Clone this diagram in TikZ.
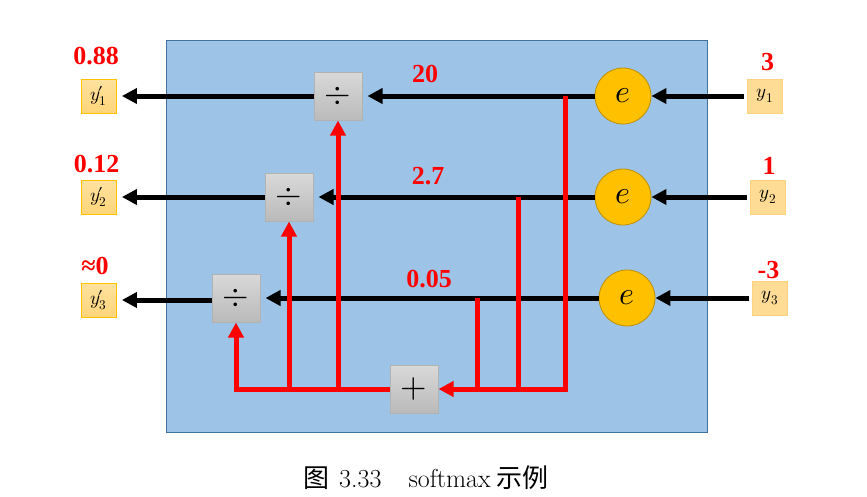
\documentclass[tikz,border=0pt]{standalone}
\usepackage{fontspec}
\usepackage{unicode-math}
\setmathfont{Latin Modern Math}
\newfontfamily\tnr{Liberation Serif}
\newfontfamily\cjk{Noto Sans CJK SC}
\usetikzlibrary{arrows.meta}
\definecolor{bluebg}{HTML}{9DC3E6}
\definecolor{blueedge}{HTML}{41719C}
\definecolor{expfill}{HTML}{FFC000}
\definecolor{expedge}{HTML}{BF9000}
\definecolor{infill}{HTML}{FFDC95}
\definecolor{inedge}{HTML}{FFD27F}
\definecolor{outtop}{HTML}{FFE29E}
\definecolor{outbot}{HTML}{FFD57A}
\definecolor{outedge}{HTML}{FFC000}
\definecolor{redline}{HTML}{FF0000}
\newcommand{\yp}[1]{y\mkern-3mu{\prime}_{\mkern-5mu#1}}
\begin{document}
\begin{tikzpicture}[x=1pt,y=-1pt,
  inbox/.style={draw=inedge, fill=infill, line width=0.8pt, minimum width=35pt, minimum height=34pt, inner sep=0pt, font=\fontsize{19}{19}\selectfont},
  outbox/.style={draw=outedge, top color=outtop, bottom color=outbot, line width=0.8pt, minimum width=35pt, minimum height=34pt, inner sep=0pt, font=\fontsize{19}{19}\selectfont},
  divbox/.style={draw=black!30, top color=black!15, bottom color=black!27, line width=1pt, minimum size=48pt, inner sep=0pt, font=\fontsize{34}{34}\selectfont},
  expnode/.style={circle, draw=expedge, fill=expfill, line width=0.8pt, minimum size=56pt, inner sep=0pt, font=\fontsize{32}{32}\selectfont},
  val/.style={text=redline, inner sep=0pt, font=\tnr\bfseries\fontsize{26}{26}\selectfont},
  blk/.style={line width=5pt, -{Triangle[length=15pt,width=15pt]}},
  rd/.style={draw=redline, line width=5pt},
  rda/.style={rd, -{Triangle[length=15pt,width=15pt]}}
]
\useasboundingbox (0,0) rectangle (867,496);
\fill[bluebg] (166,40) rectangle (707,432);
\draw[blueedge, line width=0.8pt] (166,40) rectangle (707,432);

% exp nodes
\node[expnode] (e1) at (623,96) {$e$};
\node[expnode] (e2) at (623,197) {$e$};
\node[expnode] (e3) at (627,298) {$e$};

% inputs
\node[inbox] (in1) at (765,96) {$y_1$};
\node[inbox] (in2) at (768,197) {$y_2$};
\node[inbox] (in3) at (770,298) {$y_3$};
\node[val] (v1) at (767.5,62) {3};
\node[val] (v2) at (769,166) {1};
\node[val] (v3) at (768.5,270) {-3};

% divide boxes
\node[divbox] (d1) at (338,96) {$\div$};
\node[divbox] (d2) at (289,197) {$\div$};
\node[divbox] (d3) at (236,298) {$\div$};

% plus box
\node[divbox] (plus) at (414,389) {$+$};

% outputs
\node[outbox] (o1) at (99,96) {$\yp{1}$};
\node[outbox] (o2) at (99,197) {$\yp{2}$};
\node[outbox] (o3) at (99,300) {$\yp{3}$};
\node[val] (w1) at (96,56.5) {0.88};
\node[val] (w2) at (96.5,164.5) {0.12};
\node[val] (w3) at (95,265.5) {≈0};

% intermediate labels
\node[val] (l1) at (425,74) {20};
\node[val] (l2) at (428,176) {2.7};
\node[val] (l3) at (429,279) {0.05};

% input arrows
\draw[blk, shorten <=3pt] (in1.west) -- (e1.east);
\draw[blk, shorten <=3pt] (in2.west) -- (e2.east);
\draw[blk, shorten <=3pt] (in3.west) -- (e3.east);

% exp to divide
\draw[blk, shorten >=5pt] (e1.west) -- (d1.east);
\draw[blk, shorten >=5pt] (e2.west) -- (d2.east);
\draw[blk, shorten >=5pt] (e3.west) -- (d3.east);

% divide to outputs
\draw[blk, shorten >=5pt] (d1.west) -- (o1.east);
\draw[blk, shorten >=5pt] (d2.west) -- (o2.east);
\draw[blk, shorten >=5pt] (d3.west |- o3.east) -- (o3.east);

% red sum network
\coordinate (t1) at (565,96);
\coordinate (t2) at (518,197);
\coordinate (t3) at (477,298);
\draw[rda] (t1) |- (plus.east);
\draw[rd] (t2) -- (t2 |- plus.east);
\draw[rd] (t3) -- (t3 |- plus.east);
\draw[rda] (plus.west) -| (d3.south);
\draw[rda] (plus.west -| d2.south) -- (d2.south);
\draw[rda] (plus.west -| d1.south) -- (d1.south);

% caption
\node[inner sep=0pt, font=\fontsize{26}{26}\selectfont] (cap) at (426,478) {{\cjk 图}\hspace{10pt}3.33\hspace{27pt}softmax\hspace{6pt}{\cjk 示例}};
\end{tikzpicture}
\end{document}
